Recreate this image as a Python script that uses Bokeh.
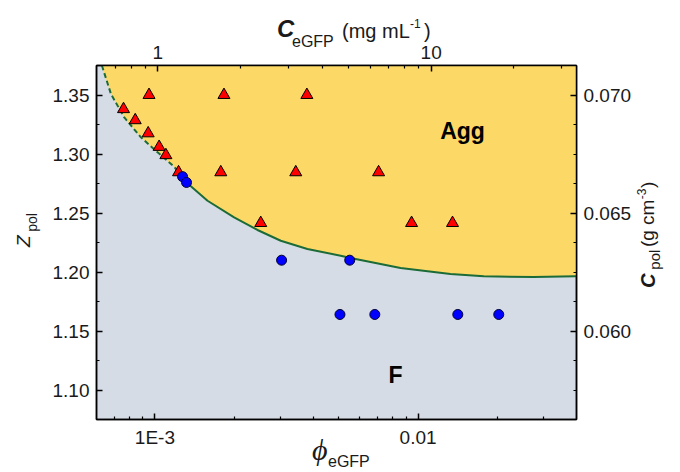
from bokeh.plotting import figure
from bokeh.models import (LogAxis, LinearAxis, Range1d, LogScale, FixedTicker,
                          SingleIntervalTicker, NumeralTickFormatter, Label, GridBox, Div)
from bokeh.embed import file_html
from bokeh.resources import INLINE

# ---------------- data ----------------
# aggregated samples (red triangles)
agg_phi = [7.6e-4, 8.42e-4, 9.43e-4, 1.038e-3, 1.101e-3, 1.23e-3,
           9.5e-4, 1.83e-3, 3.78e-3,
           1.78e-3, 3.43e-3, 7.08e-3,
           2.525e-3, 9.45e-3, 1.352e-2]
agg_z = [1.338, 1.3286, 1.3175, 1.306, 1.299, 1.2845,
         1.35, 1.35, 1.35,
         1.2845, 1.2845, 1.2845,
         1.2415, 1.2415, 1.2415]
# fluid samples (blue circles)
f_phi = [1.274e-3, 1.319e-3, 3.03e-3, 5.5e-3, 5.05e-3, 6.85e-3, 1.416e-2, 2.026e-2]
f_z = [1.2808, 1.2759, 1.21, 1.21, 1.164, 1.164, 1.164, 1.164]

# phase boundary (dashed part, then solid part; they share one point)
bnd_dash_phi = [6.29e-4, 6.81e-4, 7.65e-4, 8.85e-4, 1.024e-3, 1.184e-3, 1.319e-3]
bnd_dash_z = [1.375, 1.3508, 1.331, 1.3141, 1.3014, 1.2892, 1.2759]
bnd_solid_phi = [1.319e-3, 1.585e-3, 2.0e-3, 2.454e-3, 3.008e-3, 3.797e-3, 5.08e-3,
                 5.54e-3, 8.58e-3, 1.328e-2, 1.777e-2, 2.751e-2, 3.96e-2, 4.0e-2]
bnd_solid_z = [1.2759, 1.2604, 1.2463, 1.2356, 1.2265, 1.2195, 1.2138,
               1.2119, 1.2034, 1.1983, 1.1963, 1.1958, 1.1963, 1.1963]

# axes
X_RANGE = (6.0e-4, 0.04)          # phi_eGFP
Y_RANGE = (1.075, 1.375)          # Z_pol
TOP_RANGE = (0.597, 34.0)         # C_eGFP (mg/mL)
RIGHT_RANGE = (0.05625, 0.07125)  # C_pol (g/cm3)

bottom_major = [1e-3, 1e-2]
bottom_minor = [7e-4, 8e-4, 9e-4, 2e-3, 3e-3, 4e-3, 5e-3, 6e-3, 7e-3, 8e-3, 9e-3,
                2e-2, 3e-2]
bottom_labels = {1e-3: "1E-3", 1e-2: "0.01"}
top_major = [1.0, 10.0]
top_minor = [0.7, 0.8, 0.9, 2, 3, 4, 5, 6, 7, 8, 9, 20, 30]
top_labels = {1.0: "1", 10.0: "10"}

YELLOW = "#FCD867"
GRAY = "#D6DCE5"
GREEN = "#1B6B38"
FONT = "Liberation Sans"
W, H = 680, 472

# ---------------- main figure ----------------
p = figure(width=W, height=H, x_axis_type="log",
           x_range=Range1d(*X_RANGE), y_range=Range1d(*Y_RANGE),
           output_backend="svg", toolbar_location=None,
           min_border_left=96, min_border_right=104,
           min_border_top=65, min_border_bottom=53)
p.background_fill_color = GRAY
p.border_fill_color = "white"
p.outline_line_color = "black"
p.outline_line_width = 1.5
p.xgrid.visible = False
p.ygrid.visible = False

p.extra_x_ranges = {"top": Range1d(*TOP_RANGE)}
p.extra_x_scales = {"top": LogScale()}
p.extra_y_ranges = {"right": Range1d(*RIGHT_RANGE)}

def style(ax):
    ax.axis_line_width = 1.5
    ax.axis_line_color = "black"
    ax.major_tick_in = 6
    ax.major_tick_out = 0
    ax.minor_tick_in = 3
    ax.minor_tick_out = 0
    ax.major_tick_line_width = 1.5
    ax.minor_tick_line_width = 1.2
    ax.major_tick_line_color = "black"
    ax.minor_tick_line_color = "black"
    ax.major_label_text_font = FONT
    ax.major_label_text_font_size = "19px"
    ax.major_label_text_color = "#1a1a1a"
    ax.major_label_standoff = 7

bx = p.xaxis[0]
bx.ticker = FixedTicker(ticks=bottom_major, minor_ticks=bottom_minor)
bx.major_label_overrides = bottom_labels
style(bx)

ly = p.yaxis[0]
ly.ticker = SingleIntervalTicker(interval=0.05, num_minor_ticks=2)
ly.formatter = NumeralTickFormatter(format="0.00")
style(ly)

tx = LogAxis(x_range_name="top")
tx.ticker = FixedTicker(ticks=top_major, minor_ticks=top_minor)
tx.major_label_overrides = top_labels
style(tx)
p.add_layout(tx, "above")

ry = LinearAxis(y_range_name="right")
ry.ticker = SingleIntervalTicker(interval=0.005, num_minor_ticks=4)
ry.formatter = NumeralTickFormatter(format="0.000")
style(ry)
p.add_layout(ry, "right")

# regions and boundary
all_phi = bnd_dash_phi + bnd_solid_phi[1:]
all_z = bnd_dash_z + bnd_solid_z[1:]
p.varea(x=all_phi, y1=all_z, y2=Y_RANGE[1], fill_color=YELLOW)
p.line(bnd_dash_phi, bnd_dash_z, line_color=GREEN, line_width=2, line_dash="5 3")
p.line(bnd_solid_phi, bnd_solid_z, line_color=GREEN, line_width=2)

p.scatter(agg_phi, agg_z, marker="triangle", size=12, fill_color="#FF0000",
          line_color="black", line_width=1)
p.scatter(f_phi, f_z, marker="circle", size=10, fill_color="#0000FF",
          line_color="#000033", line_width=1)

p.add_layout(Label(x=0.01476, y=1.3197, text="Agg", text_align="center",
                   text_baseline="middle", text_font=FONT,
                   text_font_style="bold", text_font_size="23px", text_color="black"))
p.add_layout(Label(x=8.21e-3, y=1.113, text="F", text_align="center",
                   text_baseline="middle", text_font=FONT,
                   text_font_style="bold", text_font_size="23px", text_color="black"))

# ---------------- axis titles: HTML text laid over the figure ----------------
SANS_ASC = 0.8465   # baseline offset below box top for line-height:1 (Liberation Sans)
SERIF_ASC = 0.8375  # same for Liberation Serif

def piece(bx_, by_, text, size, bold=False, italic=False, serif=False, rotate=False):
    asc = (SERIF_ASC if serif else SANS_ASC) * size
    fam = "'Liberation Serif'" if serif else "'Liberation Sans'"
    css = ("position:absolute;left:%.1fpx;top:%.1fpx;font-family:%s;font-size:%dpx;"
           "line-height:1;white-space:nowrap;color:#1a1a1a;margin:0;padding:0;"
           % (bx_, by_ - asc, fam, size))
    css += "font-weight:%s;font-style:%s;" % ("bold" if bold else "normal",
                                             "italic" if italic else "normal")
    if rotate:
        css += "transform-origin:0px %.2fpx;transform:rotate(-90deg);" % asc
    return '<div style="%s">%s</div>' % (css, text)

pieces = [
    # top title: C_eGFP (mg mL^-1)
    piece(277, 37, "C", 24, bold=True, italic=True),
    piece(292, 47, "eGFP", 16),
    piece(342, 38, "(mg mL", 20),
    piece(410, 28, "-1", 12),
    piece(424, 38, ")", 20),
    # bottom title: phi_eGFP
    piece(312, 460, "\u03d5", 30, italic=True, serif=True),
    piece(328, 467, "eGFP", 16),
    # left title: Z_pol (reads upward)
    piece(30, 247, "Z", 19, italic=True, rotate=True),
    piece(37, 232, "pol", 14, rotate=True),
    # right title: C_pol (g cm^-3) (reads upward)
    piece(655, 288, "C", 20, bold=True, italic=True, rotate=True),
    piece(660, 270, "pol", 15, rotate=True),
    piece(654, 247, "(g cm", 19, rotate=True),
    piece(646, 199, "-3", 12, rotate=True),
    piece(654, 188, ")", 19, rotate=True),
]
html = ('<div style="position:relative;width:%dpx;height:%dpx;margin:0;padding:0;'
        'pointer-events:none;">%s</div>' % (W, H, "".join(pieces)))
titles = Div(text=html, width=W, height=H, margin=0)

layout = GridBox(children=[(p, 0, 0), (titles, 0, 0)])
open("out.html", "w").write(file_html(layout, INLINE))
